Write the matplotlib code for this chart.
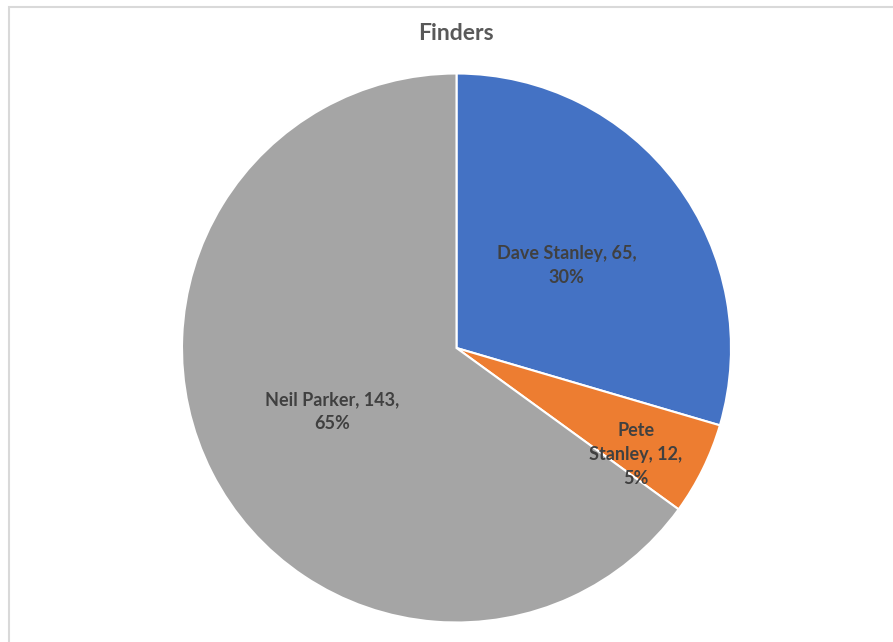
import numpy as np
import matplotlib.pyplot as plt
from matplotlib.patches import Rectangle

# data
names = ["Dave Stanley", "Pete Stanley", "Neil Parker"]
counts = [65, 12, 143]
colors = ["#4472C4", "#ED7D31", "#A5A5A5"]
title = "Finders"

# where excel put the wrapped labels (fraction of radius), style only
label_r = [0.50, 0.76, 0.51]
label_shift = [0, -4.5, 0]  # degrees off the wedge middle
wraps = ["{n}, {c},\n{p}%", "{first}\n{last}, {c},\n{p}%", "{n}, {c},\n{p}%"]

W, H = 893, 642
fig = plt.figure(figsize=(W / 100, H / 100), dpi=100)

# chart area border (runs off the right/bottom of the crop)
fig.patches.append(Rectangle((8.5 / W, -0.1), 1.2, (H - 6.5) / H + 0.1,
                             transform=fig.transFigure, fill=False,
                             edgecolor="#D9D9D9", linewidth=1.5))

cx, cy, R = 456.5, 348, 274.5
ax = fig.add_axes([(cx - R) / W, (H - cy - R) / H, 2 * R / W, 2 * R / H])
wedges, _ = ax.pie(counts, colors=colors, startangle=90, counterclock=False,
                   radius=1, wedgeprops=dict(edgecolor="white", linewidth=1.5))
ax.set_xlim(-1, 1)
ax.set_ylim(-1, 1)
ax.set_aspect("equal")
ax.axis("off")

total = sum(counts)
for i, w in enumerate(wedges):
    mid = np.deg2rad((w.theta1 + w.theta2) / 2 + label_shift[i])
    first, last = names[i].split(" ", 1)
    txt = wraps[i].format(n=names[i], c=counts[i], p=round(100 * counts[i] / total),
                          first=first, last=last)
    ax.text(label_r[i] * np.cos(mid), label_r[i] * np.sin(mid), txt,
            ha="center", va="center", fontsize=13, fontweight="bold",
            color="#404040", family=["Lato", "DejaVu Sans"], linespacing=1.5)

fig.text(456 / W, 1 - 33 / H, title, ha="center", va="center", fontsize=16.5,
         fontweight="bold", color="#595959", family=["Lato", "DejaVu Sans"])

fig.savefig("out.png", dpi=100, facecolor="white")
